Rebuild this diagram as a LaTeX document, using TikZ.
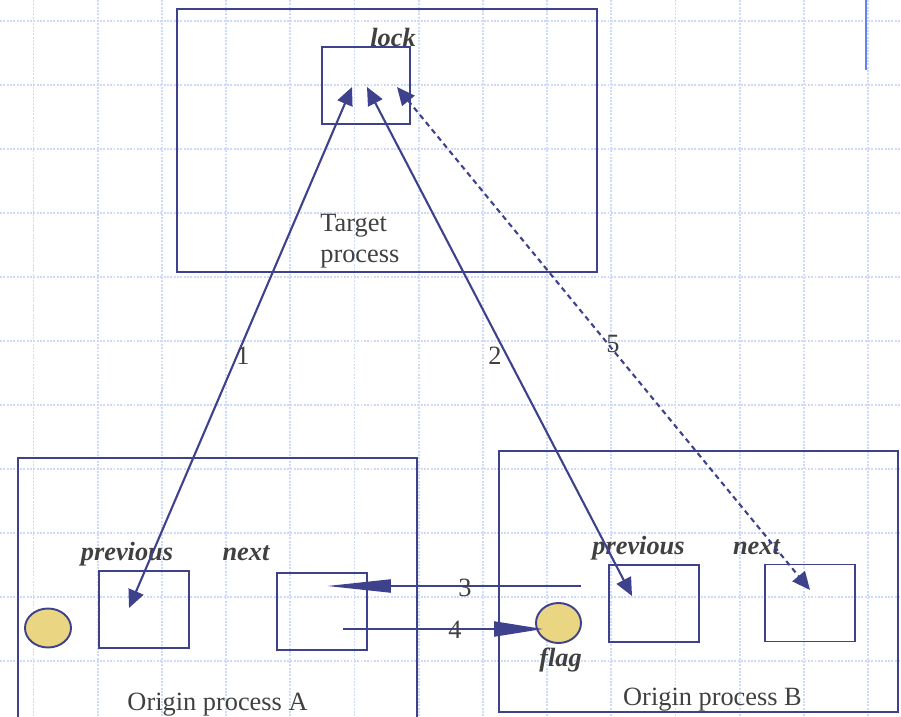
\documentclass[tikz,border=0pt]{standalone}
\usepackage{fontspec}
\setmainfont{Liberation Serif}
\usetikzlibrary{shapes.geometric,arrows.meta,calc}
\definecolor{linkblue}{RGB}{62,66,140}
\definecolor{gridblue}{RGB}{205,218,250}
\definecolor{flagfill}{RGB}{234,214,130}
\definecolor{txtgray}{RGB}{64,64,64}
\definecolor{barblue}{RGB}{100,130,245}

\begin{document}
\begin{tikzpicture}[x=0.02cm, y=-0.02cm,
    font=\fontsize{15pt}{17.5pt}\selectfont, text=txtgray,
    >={Triangle[length=0.36cm,width=0.32cm]},
    gridline/.style={draw=gridblue, line width=1.1pt, dash pattern=on 1.1pt off 0.8pt},
    procbox/.style={draw=linkblue, line width=1.1pt, inner sep=0pt},
    cellbox/.style={procbox, minimum width=1.8cm, minimum height=1.54cm},
    flagdot/.style={ellipse, draw=linkblue, line width=1.1pt, fill=flagfill, inner sep=0pt},
    varname/.style={font=\fontsize{15pt}{17.5pt}\selectfont\bfseries\itshape, anchor=base},
    steplabel/.style={anchor=base},
    link/.style={draw=linkblue, line width=1.2pt}]
    \useasboundingbox (0,0) rectangle (901,716);
    \clip (0,0) rectangle (901,716);

    % background grid
    \foreach \gy in {21,85,...,661}
      \draw[gridline] (0,\gy) -- (901,\gy);
    \foreach \k in {0,...,13}
      \draw[gridline] ({33.5+64.2*\k},0) -- ({33.5+64.2*\k},716);
    \draw[barblue,line width=1.1pt] (866,0) -- (866,70);

    % target process
    \node[procbox, minimum width=8.4cm, minimum height=5.26cm] (target) at (387,140.5) {};
    \node[procbox, minimum width=1.76cm, minimum height=1.54cm] (lockbox) at (366,85.5) {};
    \node[varname] (locklbl) at (393,47) {lock};
    \node[anchor=north west, align=left, inner sep=0pt] (targetlbl) at (320,214) {Target\\process};

    % origin process A
    \node[procbox, minimum width=7.98cm, minimum height=5.64cm] (originA) at (217.5,599) {};
    \node[cellbox] (prevA) at (144,609.5) {};
    \node[cellbox] (nextA) at (322,611.5) {};
    \node[flagdot, minimum width=0.92cm, minimum height=0.78cm] (flagA) at (48,628) {};
    \node[varname] (prevAlbl) at (127,560) {previous};
    \node[varname] (nextAlbl) at (246,560) {next};
    \node[anchor=base] (originAlbl) at (217.5,710) {Origin process A};

    % origin process B
    \node[procbox, minimum width=7.98cm, minimum height=5.22cm] (originB) at (698.5,581.5) {};
    \node[cellbox] (prevB) at (654,603.5) {};
    \node[cellbox] (nextB) at (810,603) {};
    \node[flagdot, minimum width=0.9cm, minimum height=0.8cm] (flagB) at (558.5,623) {};
    \node[varname] (prevBlbl) at (638.5,554) {previous};
    \node[varname] (nextBlbl) at (756.5,554) {next};
    \node[varname] (flagBlbl) at (560.5,666) {flag};
    \node[anchor=base] (originBlbl) at (712.5,705) {Origin process B};

    % arrow ends
    \coordinate (lockL) at (352,87);
    \coordinate (lockM) at (367,87);
    \coordinate (lockR) at (397,87);
    \coordinate (prevAin) at (129,608);
    \coordinate (prevBin) at (632,596);
    \coordinate (nextBin) at (810,590);
    \coordinate (srcB3) at (581,586);
    \coordinate (nextA3) at (327,586);
    \coordinate (nextA4) at (343,629);
    \coordinate (flagBin) at (543,629);

    \draw[link,<->] (lockL) -- (prevAin);
    \draw[link,<->] (lockM) -- (prevBin);
    \draw[link,<->,dash pattern=on 3pt off 2.3pt] (lockR) -- (nextBin);
    \draw[link,-{Triangle[length=1.28cm,width=0.26cm]}] (srcB3) -- (nextA3);
    \draw[link,-{Triangle[length=0.98cm,width=0.3cm]}] (nextA4) -- (flagBin);

    \node[steplabel] (one) at (243,364) {1};
    \node[steplabel] (two) at (495,364) {2};
    \node[steplabel] (five) at (613,352) {5};
    \node[steplabel] (three) at (465,596) {3};
    \node[steplabel] (four) at (455,638) {4};
  \end{tikzpicture}
\end{document}
